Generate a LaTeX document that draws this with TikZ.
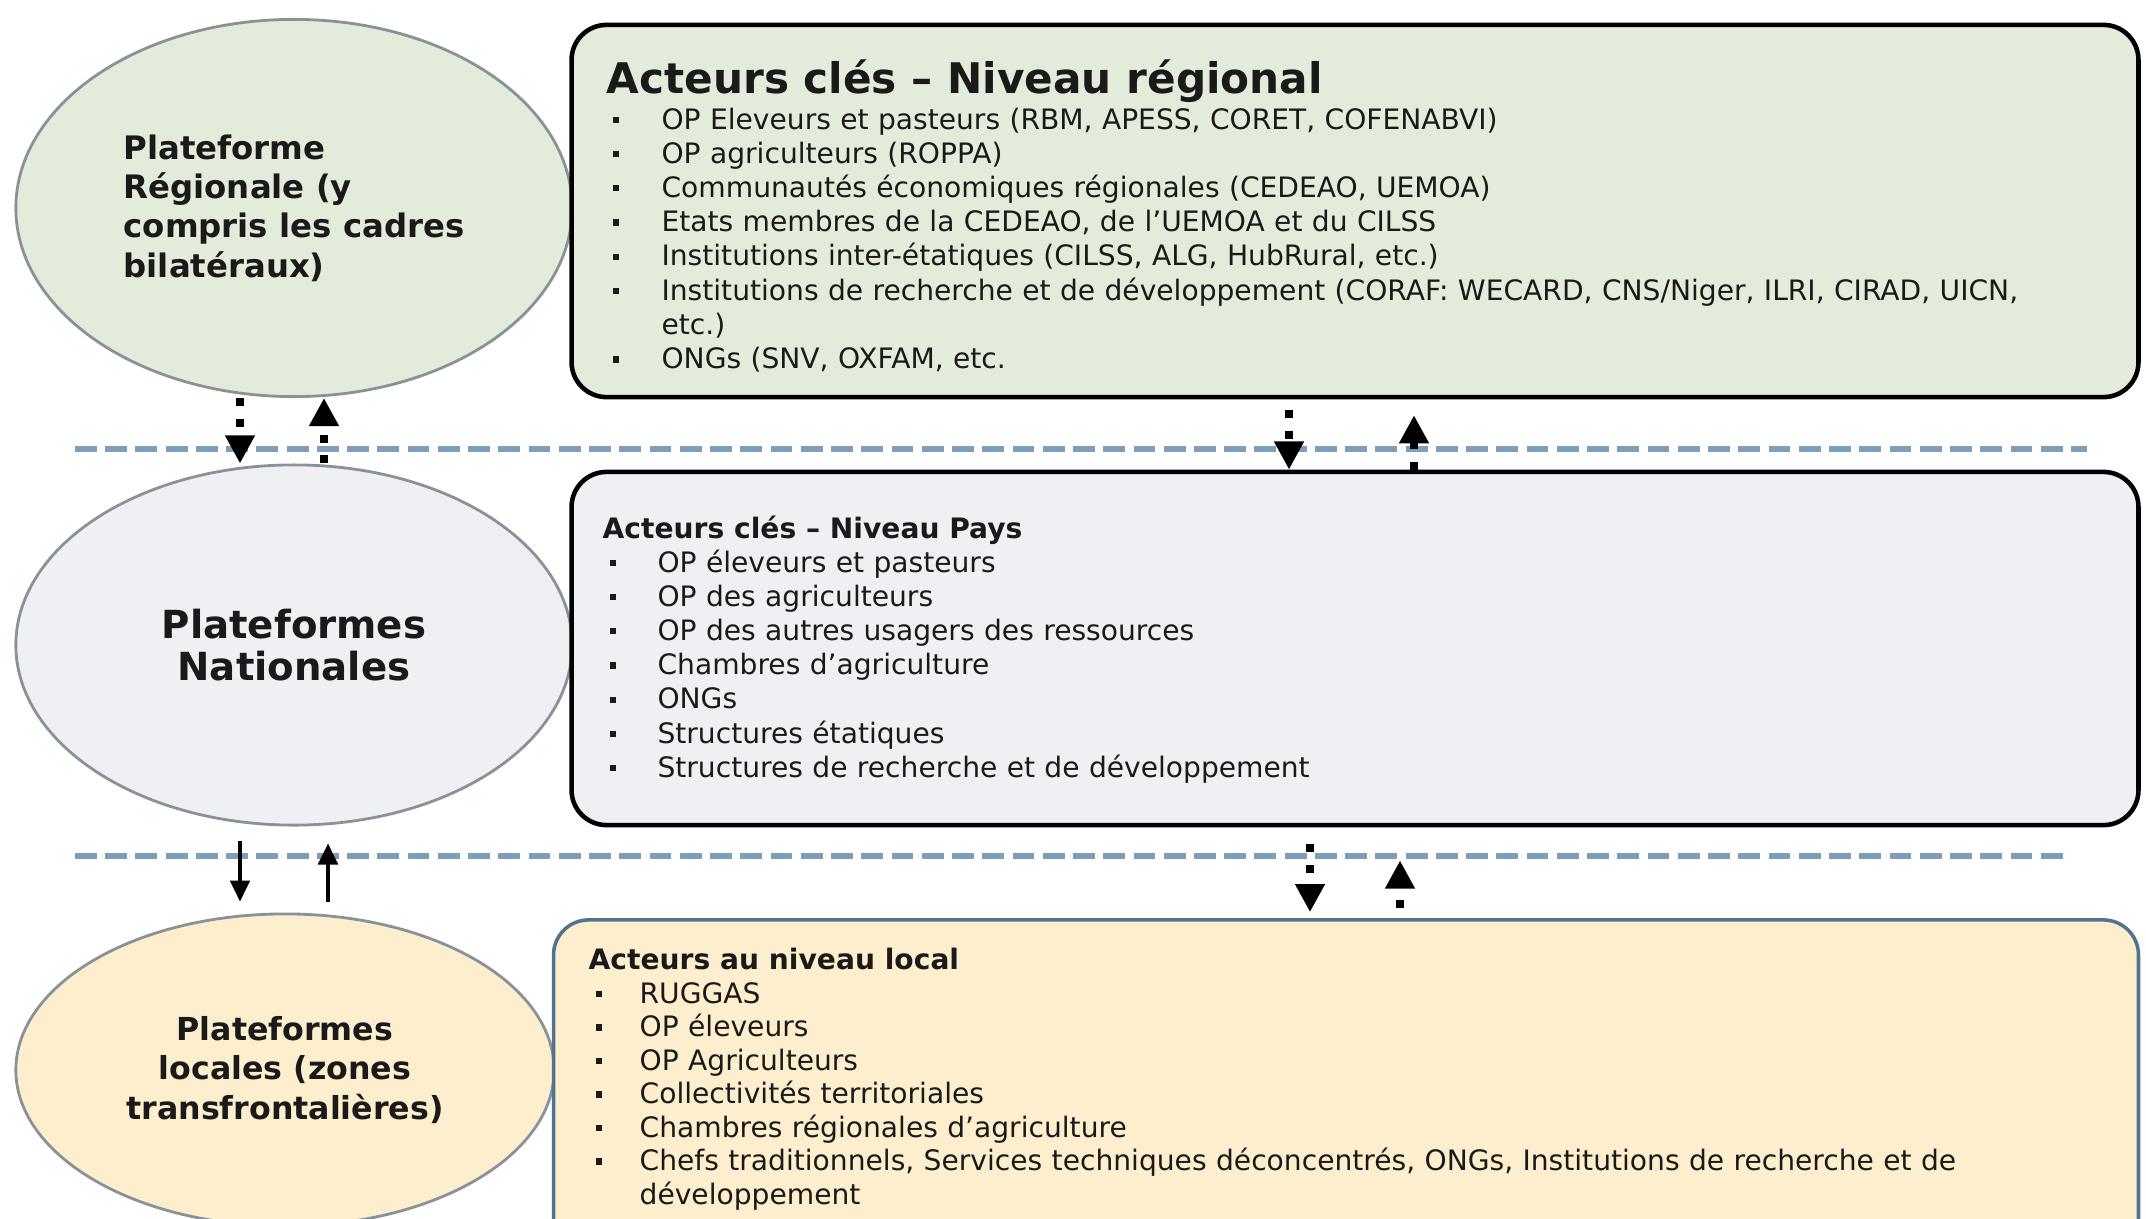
\documentclass[tikz,border=0pt]{standalone}
\usepackage{fontspec}
\setmainfont{DejaVu Sans}
\usetikzlibrary{shapes.geometric,arrows.meta,calc}

\definecolor{greenfill}{HTML}{E3ECDA}
\definecolor{greyfill}{HTML}{EFF0F3}
\definecolor{sandfill}{HTML}{FDEFCE}
\definecolor{rimgrey}{HTML}{8A9299}
\definecolor{sepblue}{HTML}{7F9EBB}
\definecolor{localrim}{HTML}{52728F}
\definecolor{ink}{HTML}{1A1A1A}

% bullet item: small square, then the text after a fixed indent
\newcommand\bul[2]{\makebox[#1][l]{\raisebox{1.7pt}{\rule{1.8pt}{1.8pt}}}#2}

\tikzset{
  plat/.style={ellipse, draw=rimgrey, line width=0.8pt, inner sep=0pt, text=ink},
  actbox/.style={rectangle, rounded corners=0.35cm, inner sep=0pt},
  hdr/.style={anchor=base west, inner sep=0pt, text=ink},
  lst/.style={anchor=base west, inner sep=0pt, align=left, text=ink},
  sepline/.style={draw=sepblue, line width=1.7pt, dash pattern=on 6.2pt off 2.4pt},
  dotarrow/.style={line width=2.3pt, dash pattern=on 2.3pt off 3.6pt,
    -{Triangle[length=8pt,width=8pt]}},
  solidarrow/.style={line width=1.2pt, -{Triangle[length=6pt,width=5.5pt]}}
}

\begin{document}
\begin{tikzpicture}[x=0.01cm,y=-0.01cm]
\path[use as bounding box] (0,0) rectangle (2146,1218);
\clip (0,0) rectangle (2146,1218);
\fill[white] (0,0) rectangle (2146,1218);

% level separators
\draw[sepline] (75,449) -- (2087,449);
\draw[sepline] (75,856) -- (2070,856);

% platforms
\node[plat, fill=greenfill, minimum width=5.56cm, minimum height=3.77cm,
      align=left, font=\bfseries\fontsize{9.2}{11.2}\selectfont] (e1) at (294,208)
  {Plateforme\\Régionale (y\\compris les cadres\\bilatéraux)};
\node[plat, fill=greyfill, minimum width=5.56cm, minimum height=3.6cm,
      align=center, font=\bfseries\fontsize{11}{12}\selectfont] (e2) at (294,645)
  {Plateformes\\Nationales};
\node[plat, fill=sandfill, minimum width=5.38cm, minimum height=3.12cm,
      align=center, font=\bfseries\fontsize{9}{11.3}\selectfont] (e3) at (285,1070)
  {Plateformes\\locales (zones\\transfrontalières)};

% actor boxes
\node[actbox, draw=black, line width=1.3pt, fill=greenfill,
      minimum width=15.66cm, minimum height=3.72cm] (b1) at (1355,211) {};
\node[actbox, draw=black, line width=1.3pt, fill=greyfill,
      minimum width=15.66cm, minimum height=3.53cm] (b2) at (1355,648.5) {};
\node[actbox, draw=localrim, line width=1pt, fill=sandfill,
      minimum width=15.84cm, minimum height=3.4cm] (b3) at (1346,1090) {};

% regional actors
\node[hdr, font=\bfseries\fontsize{12}{14}\selectfont] (b1t) at (606,93)
  {Acteurs clés – Niveau régional};
\node[lst, text width=15.2cm, font=\fontsize{8}{9.73}\selectfont] (b1l) at (612,129)
  {\bul{13.9pt}{OP Eleveurs et pasteurs (RBM, APESS, CORET, COFENABVI)}\\
   \bul{13.9pt}{OP agriculteurs (ROPPA)}\\
   \bul{13.9pt}{Communautés économiques régionales (CEDEAO, UEMOA)}\\
   \bul{13.9pt}{Etats membres de la CEDEAO, de l'UEMOA et du CILSS}\\
   \bul{13.9pt}{Institutions inter-étatiques (CILSS, ALG, HubRural, etc.)}\\
   \bul{13.9pt}{Institutions de recherche et de développement (CORAF: WECARD, CNS/Niger, ILRI, CIRAD, UICN,}\\
   \hspace*{13.9pt}etc.)\\
   \bul{13.9pt}{ONGs (SNV, OXFAM, etc.}};

% country actors
\node[hdr, font=\bfseries\fontsize{8}{9.7}\selectfont] (b2t) at (602,538)
  {Acteurs clés – Niveau Pays};
\node[lst, text width=15cm, font=\fontsize{8}{9.73}\selectfont] (b2l) at (609,572)
  {\bul{13.6pt}{OP éleveurs et pasteurs}\\
   \bul{13.6pt}{OP des agriculteurs}\\
   \bul{13.6pt}{OP des autres usagers des ressources}\\
   \bul{13.6pt}{Chambres d'agriculture}\\
   \bul{13.6pt}{ONGs}\\
   \bul{13.6pt}{Structures étatiques}\\
   \bul{13.6pt}{Structures de recherche et de développement}};

% local actors
\node[hdr, font=\bfseries\fontsize{8}{9.7}\selectfont] (b3t) at (588,969)
  {Acteurs au niveau local};
\node[lst, text width=15.2cm, font=\fontsize{8}{9.53}\selectfont] (b3l) at (595,1003)
  {\bul{12.5pt}{RUGGAS}\\
   \bul{12.5pt}{OP éleveurs}\\
   \bul{12.5pt}{OP Agriculteurs}\\
   \bul{12.5pt}{Collectivités territoriales}\\
   \bul{12.5pt}{Chambres régionales d'agriculture}\\
   \bul{12.5pt}{Chefs traditionnels, Services techniques déconcentrés, ONGs, Institutions de recherche et de}\\
   \hspace*{12.5pt}développement};

% flows between regional and national level
\draw[dotarrow] ($(e1.south)+(-54,0)$) -- ($(e2.north)+(-54,0)$);
\draw[dotarrow] ($(e2.north)+(30,0)$) -- ($(e1.south)+(30,0)$);
\draw[dotarrow, shorten <=3pt] ($(b1.south)+(-66,0)$) -- ($(b2.north)+(-66,0)$);
\draw[dotarrow, shorten >=4.5pt] ($(b2.north)+(59,0)$) -- ($(b1.south)+(59,0)$);

% flows between national and local level
\draw[solidarrow, shorten <=4pt, shorten >=3.1pt]
  ($(e2.south)+(-54,0)$) -- ($(e2.south |- e3.north)+(-54,0)$);
\draw[solidarrow, shorten <=3.1pt, shorten >=4.8pt]
  ($(e2.south |- e3.north)+(34,0)$) -- ($(e2.south)+(34,0)$);
\draw[dotarrow, shorten <=4.8pt, shorten >=1.7pt]
  ($(b2.south)+(-45,0)$) -- ($(b2.south |- b3.north)+(-45,0)$);
\draw[dotarrow, shorten <=2.8pt, shorten >=9.4pt]
  ($(b2.south |- b3.north)+(45,0)$) -- ($(b2.south)+(45,0)$);
\end{tikzpicture}
\end{document}
